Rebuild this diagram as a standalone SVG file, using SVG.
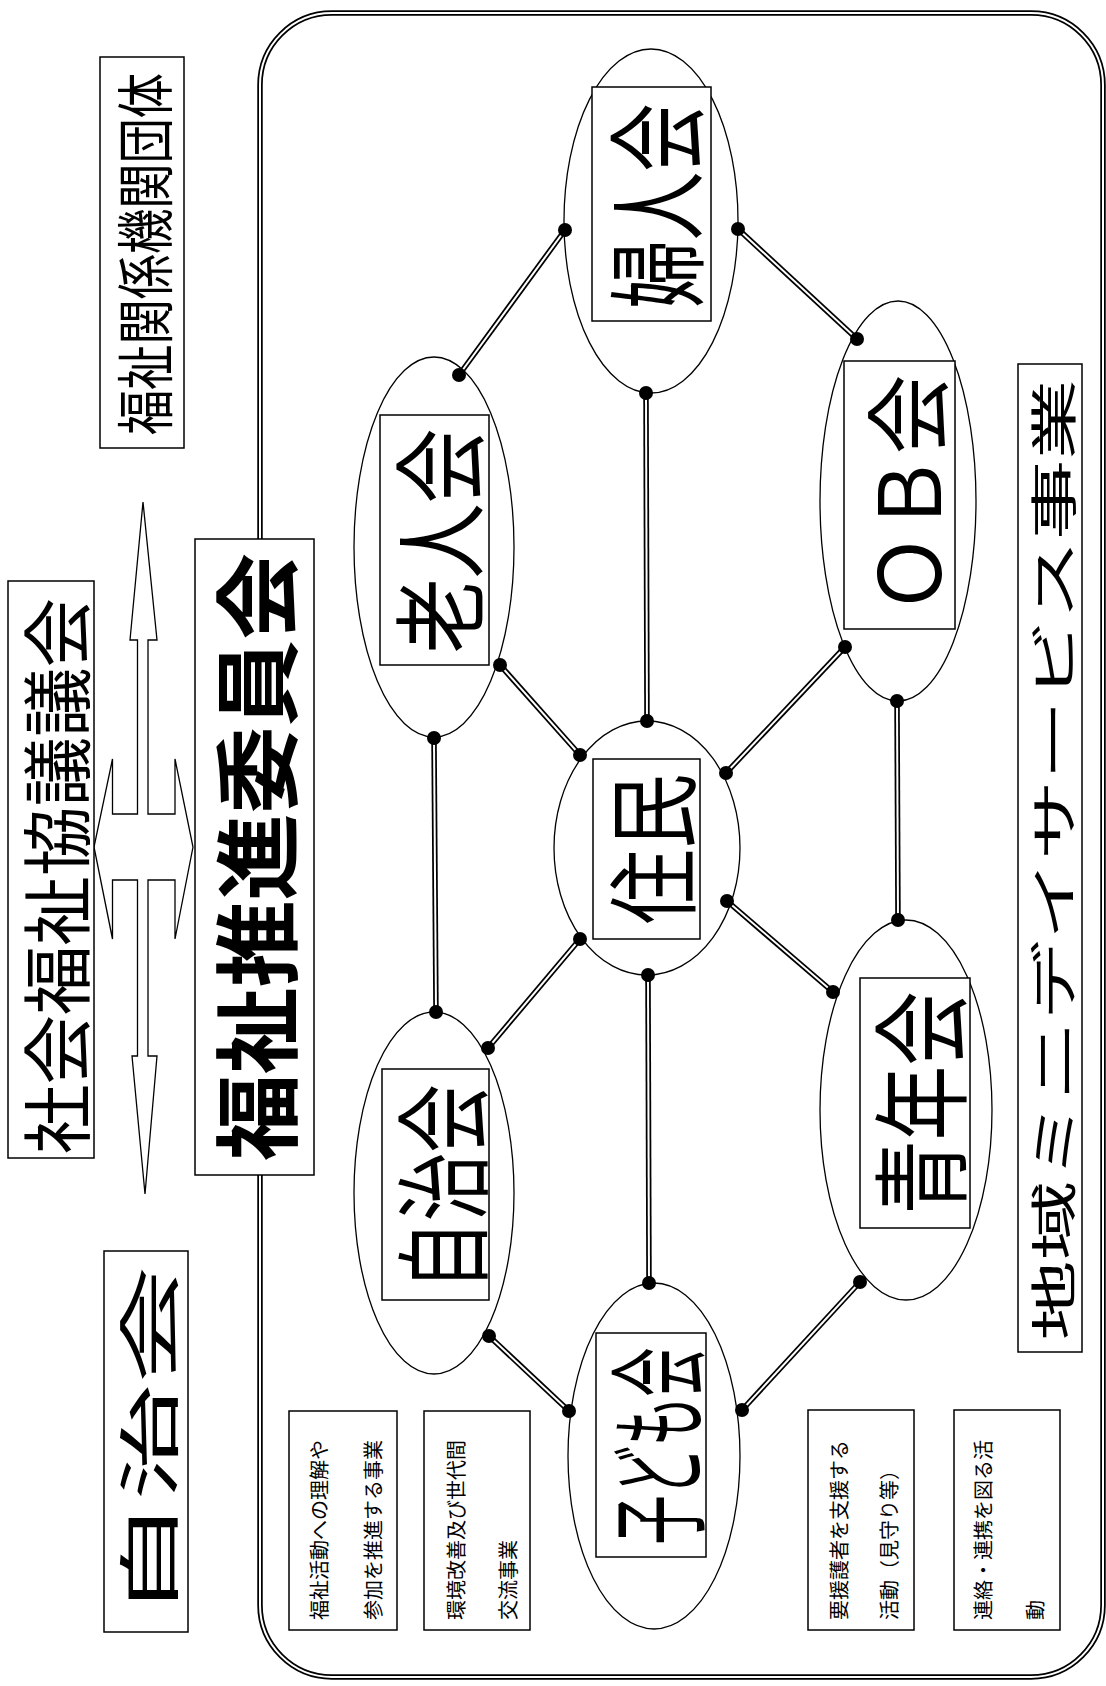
<svg xmlns="http://www.w3.org/2000/svg" width="1106" height="1686" viewBox="0 0 1106 1686">
<style>
.t{font-family:"Noto Sans CJK JP","Noto Sans CJK SC",sans-serif;dominant-baseline:central;text-anchor:middle;fill:#000}
.s{font-family:"Noto Sans CJK JP","Noto Sans CJK SC",sans-serif;dominant-baseline:central;text-anchor:start;fill:#000;font-size:20px}
.box{fill:#fff;stroke:#000;stroke-width:1.5}
.ell{fill:#fff;stroke:#000;stroke-width:1.3}
.lo{stroke:#000;stroke-width:5.5;fill:none}
.li{stroke:#fff;stroke-width:2;fill:none}
.dot{fill:#000}
</style>

<g id="frame">
<rect x="260" y="13" width="843" height="1664" rx="72" ry="72" class="lo"/>
<rect x="260" y="13" width="843" height="1664" rx="72" ry="72" class="li"/>
</g>

<g id="arrows">
<path d="M143,502 L157,640 L148,640 L148,814 L175,814 L175,759 L193,847 L175,939 L175,880 L148,880 L148,1056 L157,1056 L145,1194 L132,1056 L137.5,1056 L137.5,880 L112.5,880 L112.5,939 L94,847 L112.5,759 L112.5,814 L137.5,814 L137.5,640 L130,640 Z" fill="#fff" stroke="#000" stroke-width="1.3" stroke-linejoin="miter"/>
</g>

<g id="fukushi-kankei">
<rect x="100" y="57" width="84" height="391" class="box"/>
<text class="t" transform="translate(142,254) rotate(-90)" font-size="58" textLength="362" lengthAdjust="spacingAndGlyphs">福祉関係機関団体</text>
</g>

<g id="shakyo">
<rect x="8" y="581" width="86" height="577" class="box"/>
<text class="t" transform="translate(53,876) rotate(-90)" font-size="70" textLength="556" lengthAdjust="spacingAndGlyphs">社会福祉協議議会</text>
</g>

<g id="suishin">
<rect x="195" y="539" width="119" height="636" class="box"/>
<text class="t" transform="translate(252,857) rotate(-90)" font-size="86" font-weight="700" textLength="608" lengthAdjust="spacingAndGlyphs">福祉推進委員会</text>
</g>

<g id="jichikai-left">
<rect x="104" y="1251" width="84" height="381" class="box"/>
<text class="t" transform="translate(146,1442) rotate(-90)" font-size="62" textLength="352" lengthAdjust="spacingAndGlyphs">自治会</text>
</g>

<g id="chiiki">
<rect x="1018" y="364" width="64" height="988" class="box"/>
<text class="t" transform="translate(1050,860) rotate(-90)" font-size="47" textLength="961" lengthAdjust="spacingAndGlyphs">地域ミニデイサービス事業</text>
</g>

<g id="connectors">
<g class="lo">
<line x1="459" y1="375" x2="565" y2="230"/>
<line x1="738" y1="229" x2="857" y2="339"/>
<line x1="646" y1="393" x2="647" y2="721"/>
<line x1="500" y1="665" x2="580" y2="755"/>
<line x1="845" y1="647" x2="726" y2="773"/>
<line x1="434" y1="738" x2="436" y2="1012"/>
<line x1="897" y1="701" x2="898" y2="920"/>
<line x1="727" y1="901" x2="833" y2="992"/>
<line x1="580" y1="939" x2="488" y2="1048"/>
<line x1="648" y1="975" x2="649" y2="1283"/>
<line x1="489" y1="1336" x2="569" y2="1411"/>
<line x1="860" y1="1282" x2="742" y2="1410"/>
</g>
<g class="li">
<line x1="459" y1="375" x2="565" y2="230"/>
<line x1="738" y1="229" x2="857" y2="339"/>
<line x1="646" y1="393" x2="647" y2="721"/>
<line x1="500" y1="665" x2="580" y2="755"/>
<line x1="845" y1="647" x2="726" y2="773"/>
<line x1="434" y1="738" x2="436" y2="1012"/>
<line x1="897" y1="701" x2="898" y2="920"/>
<line x1="727" y1="901" x2="833" y2="992"/>
<line x1="580" y1="939" x2="488" y2="1048"/>
<line x1="648" y1="975" x2="649" y2="1283"/>
<line x1="489" y1="1336" x2="569" y2="1411"/>
<line x1="860" y1="1282" x2="742" y2="1410"/>
</g>
</g>

<g id="rojinkai">
<ellipse cx="434" cy="547" rx="80" ry="190" class="ell"/>
<rect x="380" y="415" width="109" height="250" class="box"/>
<text class="t" transform="translate(434.5,541) rotate(-90)" font-size="94" textLength="225" lengthAdjust="spacingAndGlyphs">老人会</text>
</g>

<g id="fujinkai">
<ellipse cx="651" cy="221" rx="87" ry="172" class="ell"/>
<rect x="592" y="87" width="119" height="234" class="box"/>
<text class="t" transform="translate(651.5,206) rotate(-90)" font-size="100" textLength="205" lengthAdjust="spacingAndGlyphs">婦人会</text>
</g>

<g id="obkai">
<ellipse cx="898" cy="501" rx="78" ry="200" class="ell"/>
<rect x="844" y="361" width="111" height="268" class="box"/>
<text class="t" transform="translate(903,494) rotate(-90)" font-size="86" textLength="239" lengthAdjust="spacingAndGlyphs">ＯＢ会</text>
</g>

<g id="jumin">
<ellipse cx="647" cy="848" rx="93" ry="127" class="ell"/>
<rect x="593" y="759" width="107" height="180" class="box"/>
<text class="t" transform="translate(647,849) rotate(-90)" font-size="92" textLength="151" lengthAdjust="spacingAndGlyphs">住民</text>
</g>

<g id="seinenkai">
<ellipse cx="906" cy="1110" rx="86" ry="190" class="ell"/>
<rect x="860" y="978" width="110" height="250" class="box"/>
<text class="t" transform="translate(915,1103) rotate(-90)" font-size="98" textLength="223" lengthAdjust="spacingAndGlyphs">青年会</text>
</g>

<g id="kodomokai">
<ellipse cx="654" cy="1456" rx="86" ry="173" class="ell"/>
<rect x="596" y="1333" width="110" height="224" class="box"/>
<text class="t" transform="translate(652,1446) rotate(-90)" font-size="100" textLength="197" lengthAdjust="spacingAndGlyphs">子ども会</text>
</g>

<g id="jichikai">
<ellipse cx="434" cy="1193" rx="80" ry="181" class="ell"/>
<rect x="382" y="1069" width="107" height="231" class="box"/>
<text class="t" transform="translate(437,1187) rotate(-90)" font-size="96" textLength="206" lengthAdjust="spacingAndGlyphs">自治会</text>
</g>

<g id="dots">
<circle cx="459" cy="375" r="7" class="dot"/>
<circle cx="565" cy="230" r="7" class="dot"/>
<circle cx="738" cy="229" r="7" class="dot"/>
<circle cx="857" cy="339" r="7" class="dot"/>
<circle cx="646" cy="393" r="7" class="dot"/>
<circle cx="647" cy="721" r="7" class="dot"/>
<circle cx="500" cy="665" r="7" class="dot"/>
<circle cx="580" cy="755" r="7" class="dot"/>
<circle cx="845" cy="647" r="7" class="dot"/>
<circle cx="726" cy="773" r="7" class="dot"/>
<circle cx="434" cy="738" r="7" class="dot"/>
<circle cx="436" cy="1012" r="7" class="dot"/>
<circle cx="897" cy="701" r="7" class="dot"/>
<circle cx="898" cy="920" r="7" class="dot"/>
<circle cx="727" cy="901" r="7" class="dot"/>
<circle cx="833" cy="992" r="7" class="dot"/>
<circle cx="580" cy="939" r="7" class="dot"/>
<circle cx="488" cy="1048" r="7" class="dot"/>
<circle cx="648" cy="975" r="7" class="dot"/>
<circle cx="649" cy="1283" r="7" class="dot"/>
<circle cx="489" cy="1336" r="7" class="dot"/>
<circle cx="569" cy="1411" r="7" class="dot"/>
<circle cx="860" cy="1282" r="7" class="dot"/>
<circle cx="742" cy="1410" r="7" class="dot"/>
</g>

<g id="note1">
<rect x="289" y="1411" width="108" height="219" class="box"/>
<text class="s" transform="translate(318,1620) rotate(-90)">福祉活動への理解や</text>
<text class="s" transform="translate(372,1620) rotate(-90)">参加を推進する事業</text>
</g>
<g id="note2">
<rect x="424" y="1411" width="106" height="219" class="box"/>
<text class="s" transform="translate(455,1620) rotate(-90)">環境改善及び世代間</text>
<text class="s" transform="translate(507,1620) rotate(-90)">交流事業</text>
</g>
<g id="note3">
<rect x="808" y="1410" width="106" height="220" class="box"/>
<text class="s" transform="translate(838,1620) rotate(-90)">要援護者を支援する</text>
<text class="s" transform="translate(888,1620) rotate(-90)">活動（見守り等）</text>
</g>
<g id="note4">
<rect x="954" y="1410" width="106" height="220" class="box"/>
<text class="s" transform="translate(982,1620) rotate(-90)">連絡・連携を図る活</text>
<text class="s" transform="translate(1034,1620) rotate(-90)">動</text>
</g>
</svg>
